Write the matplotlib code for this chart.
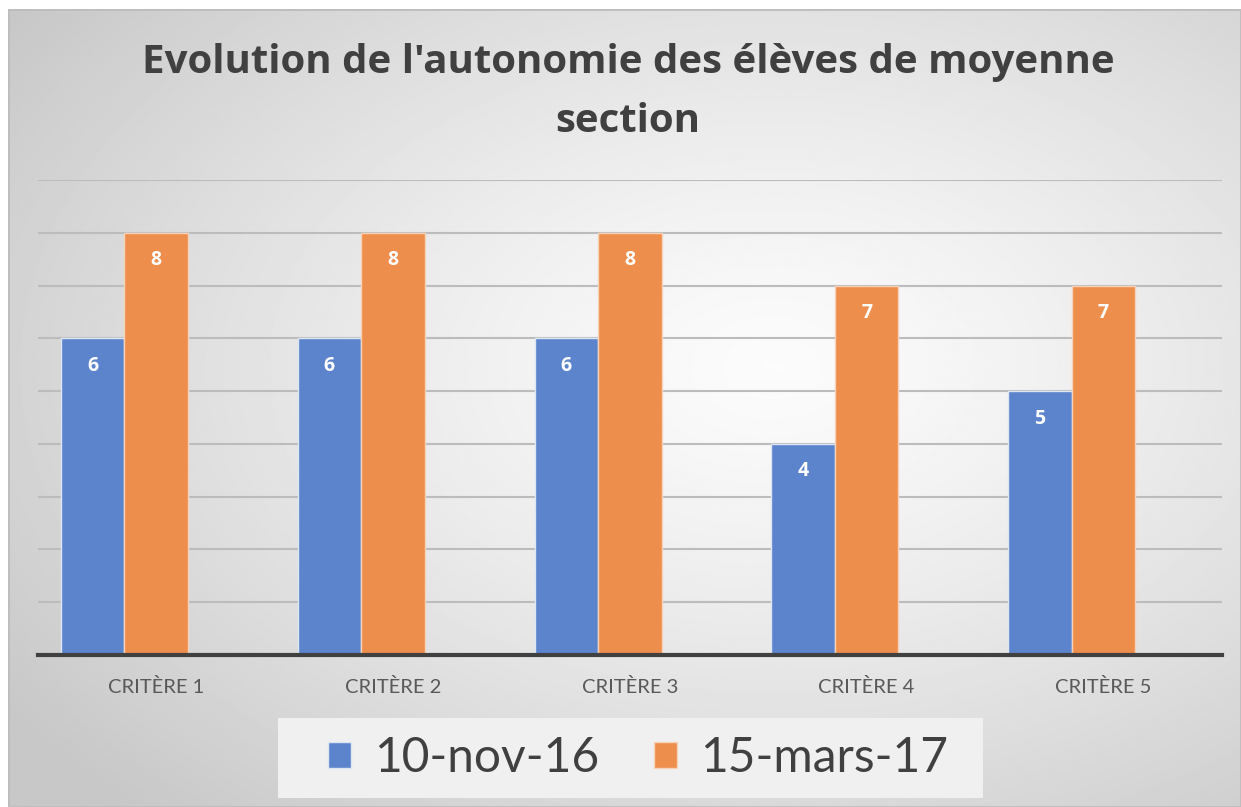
import numpy as np
import matplotlib
matplotlib.use("Agg")
from matplotlib import pyplot as plt
from matplotlib.patches import Rectangle

# data
categories = ["CRITÈRE 1", "CRITÈRE 2", "CRITÈRE 3", "CRITÈRE 4", "CRITÈRE 5"]
nov16 = [6, 6, 6, 4, 5]
mars17 = [8, 8, 8, 7, 7]
series_names = ["10-nov-16", "15-mars-17"]

blue = "#5b84cc"
orange = "#ee8e4c"

plt.rcParams['font.family'] = ['Open Sans', 'DejaVu Sans']

W, H = 1241, 807
fig = plt.figure(figsize=(W / 100, H / 100), dpi=100)
fig.patch.set_facecolor("white")

# background with radial gradient
bg = fig.add_axes([8 / W, 0, 1 - 8 / W, 1 - 9 / H])
yy, xx = np.mgrid[0:1:400j, 0:1:600j]
r = np.sqrt(((xx - 0.62) / 0.75) ** 2 + ((yy - 0.55) / 0.75) ** 2)
r = np.clip(r, 0, 1)
vals = 0.985 - 0.20 * r ** 1.3
bg.imshow(vals, cmap="gray", vmin=0, vmax=1, aspect="auto", extent=[0, 1, 0, 1], origin="lower")
bg.set_xlim(0, 1)
bg.set_ylim(0, 1)
bg.axis("off")
bg.add_patch(Rectangle((0, 0), 1, 1, fill=False, ec="#bdbdbd", lw=2, transform=bg.transAxes))

ax = fig.add_axes([37.6 / W, 1 - 655 / H, (1222 - 37.6) / W, (655 - 180) / H])
ax.patch.set_alpha(0)

x = np.arange(len(categories))
w = 0.268
b1 = ax.bar(x - w, nov16, w, color=blue, edgecolor="#dfe6f3", linewidth=1, zorder=3, label=series_names[0])
b2 = ax.bar(x, mars17, w, color=orange, edgecolor="#f6d2b8", linewidth=1, zorder=3, label=series_names[1])

for bars, vals_ in ((b1, nov16), (b2, mars17)):
    for rect, v in zip(bars, vals_):
        ax.text(rect.get_x() + rect.get_width() / 2, v - 0.52, str(v), ha="center", va="center",
                color="white", fontsize=14, fontweight="bold", zorder=4)

ax.set_xlim(-0.5, len(categories) - 0.5)
ax.set_ylim(0, 9)
ax.set_yticks(np.arange(1, 10))
ax.yaxis.grid(True, color="#bcbcbc", linewidth=1.5, zorder=0)
ax.tick_params(axis="y", left=False, labelleft=False)
ax.tick_params(axis="x", bottom=False, pad=13)
ax.set_xticks(x)
ax.set_xticklabels(categories, fontsize=14.5, color="#595959", family=["Lato", "DejaVu Sans"])
for s in ["top", "right", "left"]:
    ax.spines[s].set_visible(False)
ax.spines["bottom"].set_color("#404040")
ax.spines["bottom"].set_linewidth(3)
ax.spines["bottom"].set_zorder(5)

fig.text(628 / W, 1 - 63 / H, "Evolution de l'autonomie des élèves de moyenne", ha="center", va="center",
         fontsize=29, fontweight="bold", color="#404040")
fig.text(628 / W, 1 - 121 / H, "section", ha="center", va="center",
         fontsize=29, fontweight="bold", color="#404040")

# legend box
fig.patches.append(Rectangle((278 / W, 1 - 798 / H), (983 - 278) / W, 80 / H, transform=fig.transFigure,
                             facecolor="#f0f0f0", edgecolor="none", zorder=1))
leg = fig.legend(handles=[b1, b2], labels=series_names, loc="center", bbox_to_anchor=(638 / W, 1 - 758 / H),
                 ncol=2, frameon=False, prop={"family": ["Lato", "DejaVu Sans"], "size": 34.5},
                 handlelength=0.48, handleheight=0.48,
                 handletextpad=0.48, columnspacing=1.15, labelcolor="#404040")

fig.savefig("out.png", dpi=100)
